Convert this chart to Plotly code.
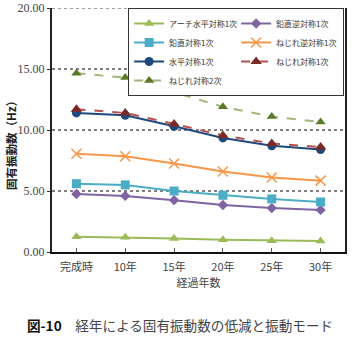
import plotly.graph_objects as go

categories = ["完成時", "10年", "15年", "20年", "25年", "30年"]

arch_h1 = [1.25, 1.2, 1.1, 1.0, 0.93, 0.9]
vert_anti1 = [4.75, 4.6, 4.25, 3.85, 3.6, 3.45]
vert_sym1 = [5.6, 5.5, 5.0, 4.65, 4.35, 4.1]
tors_anti1 = [8.05, 7.85, 7.25, 6.6, 6.1, 5.85]
horiz_sym1 = [11.4, 11.2, 10.3, 9.35, 8.7, 8.4]
tors_sym1 = [11.7, 11.4, 10.5, 9.55, 8.9, 8.6]
tors_sym2 = [14.65, 14.3, 13.1, 11.9, 11.1, 10.65]

y_ticks = [0, 5, 10, 15, 20]

fig = go.Figure()

def add(name, vals, lcolor, mcolor, symbol, dash="solid", msize=9, mline=None):
    marker = dict(symbol=symbol, size=msize, color=mcolor)
    if mline:
        marker["line"] = mline
    fig.add_trace(go.Scatter(
        x=categories, y=vals, name=name, mode="lines+markers",
        line=dict(color=lcolor, width=2, dash=dash),
        marker=marker,
    ))

add("アーチ水平対称1次", arch_h1, "#9BBB59", "#9BBB59", "triangle-up")
add("鉛直逆対称1次", vert_anti1, "#8064A2", "#8064A2", "diamond", msize=8)
add("鉛直対称1次", vert_sym1, "#4BACC6", "#4BACC6", "square", msize=9)
add("ねじれ逆対称1次", tors_anti1, "#F79646", "#F79646", "x-thin", msize=10,
    mline=dict(color="#F79646", width=1.5))
add("水平対称1次", horiz_sym1, "#1F497D", "#1F497D", "circle", msize=9)
add("ねじれ対称1次", tors_sym1, "#B5504D", "#7B2A26", "triangle-up", dash="dash", msize=10)
add("ねじれ対称2次", tors_sym2, "#A3B57A", "#5A7A28", "triangle-up", dash="dash", msize=9)

jp = "Noto Sans CJK JP"
serif = "Liberation Serif"

fig.update_layout(
    width=354, height=337,
    margin=dict(l=52, r=9, t=8, b=85),
    paper_bgcolor="white", plot_bgcolor="white",
    font=dict(family=jp, size=11, color="#333333"),
    legend=dict(
        orientation="h", x=0.997, y=1.0, xanchor="right", yanchor="top",
        bgcolor="white", bordercolor="#333333", borderwidth=1,
        font=dict(family=jp, size=8, color="#333333"),
        entrywidth=62, entrywidthmode="pixels",
        itemwidth=30, tracegroupgap=0,
    ),
    xaxis=dict(
        range=[-0.5, 5.5], showgrid=False, showline=True, linecolor="#111111", linewidth=2,
        ticks="inside", ticklen=4, tickcolor="#555555", automargin=False,
        ticklabelstandoff=4,
        tickfont=dict(family=jp, size=11, color="#444444"),
        title=dict(text="経過年数", font=dict(family=jp, size=11, color="#444444"), standoff=4),
    ),
    yaxis=dict(
        range=[0, 20], tickvals=y_ticks, tickformat=".2f",
        showgrid=True, gridcolor="#808080", griddash="dot", gridwidth=1.5,
        showline=True, linecolor="#222222", linewidth=2, mirror=True,
        ticks="outside", ticklen=3, tickcolor="#333333", automargin=False,
        tickfont=dict(family=serif, size=12, color="#444444"),
        zeroline=False,
    ),
    showlegend=True,
)

fig.add_shape(type="line", xref="paper", yref="y", x0=0, x1=1, y0=20, y1=20,
              line=dict(color="#808080", width=1.5, dash="dot"), layer="below")

fig.add_annotation(
    xref="paper", yref="paper", x=-0.14, y=0.451, xanchor="center", yanchor="middle",
    showarrow=False, textangle=-90,
    text="<b>固有振動数（Hz）</b>",
    font=dict(family=jp, size=11.5, color="#222222"),
)

fig.add_annotation(
    xref="paper", yref="paper", x=-0.092, y=-0.298, xanchor="left", yanchor="middle",
    showarrow=False,
    text="<b>図-10</b>　<span style='color:#444444'>経年による固有振動数の低減と振動モード</span>",
    font=dict(family=jp, size=13.6, color="#111111"),
)

fig.write_html("out.html")
